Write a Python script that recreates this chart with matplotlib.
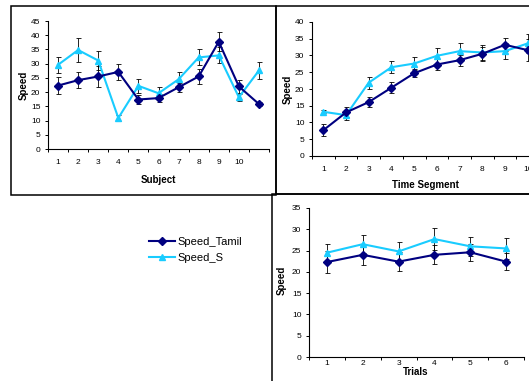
import matplotlib
matplotlib.use("Agg")
from matplotlib import pyplot as plt
from matplotlib.patches import Rectangle
from matplotlib.lines import Line2D

W, H = 529, 381
TAMIL_COLOR = "#000080"
S_COLOR = "#19CCFF"

# panel 1: per subject
subjects = ["1", "2", "3", "4", "5", "6", "7", "8", "9", "10", ""]
subj_tamil = [22.3, 24.2, 25.5, 27.1, 17.4, 17.9, 21.7, 25.5, 37.7, 22.0, 15.8]
subj_tamil_err = [3.0, 2.8, 3.6, 2.8, 1.5, 1.3, 1.6, 2.8, 3.3, 2.3, 0.8]
subj_s = [29.6, 34.8, 31.1, 10.9, 22.2, 19.6, 24.5, 32.2, 32.9, 18.2, 27.6]
subj_s_err = [2.9, 4.1, 3.5, 1.1, 2.4, 2.1, 2.5, 2.8, 2.8, 1.2, 3.1]

# panel 2: per time segment
segments = ["1", "2", "3", "4", "5", "6", "7", "8", "9", "10"]
seg_tamil = [7.7, 13.0, 16.1, 20.4, 24.7, 27.3, 28.6, 30.5, 33.2, 31.6]
seg_tamil_err = [1.8, 1.5, 1.5, 1.7, 1.2, 1.6, 1.6, 2.0, 2.0, 3.3]
seg_s = [13.2, 12.2, 21.9, 26.5, 27.6, 29.9, 31.3, 30.9, 31.3, 33.6]
seg_s_err = [0.4, 1.5, 1.8, 1.8, 2.0, 2.2, 2.3, 2.3, 2.3, 2.8]

# panel 3: per trial
trials = ["1", "2", "3", "4", "5", "6"]
trial_tamil = [22.3, 24.0, 22.4, 24.0, 24.6, 22.4]
trial_tamil_err = [2.6, 2.4, 2.2, 2.2, 2.0, 2.0]
trial_s = [24.5, 26.5, 24.8, 27.7, 26.0, 25.5]
trial_s_err = [2.0, 2.1, 2.1, 2.5, 2.3, 2.5]


def px_axes(fig, left, top, right, bottom):
    return fig.add_axes([left / W, 1 - bottom / H, (right - left) / W, (bottom - top) / H])


def frame(fig, left, top, right, bottom):
    fig.patches.append(Rectangle((left / W, 1 - bottom / H), (right - left) / W, (bottom - top) / H,
                                 transform=fig.transFigure, fill=False, edgecolor="black",
                                 linewidth=1.1, zorder=0))


def excel_chart(ax, labels, tamil, tamil_err, s, s_err, ymax, label_pad):
    n = len(labels)
    x = list(range(1, n + 1))
    ax.errorbar(x, s, yerr=s_err, color=S_COLOR, marker="^", markersize=5,
                linewidth=1.5, ecolor="black", elinewidth=0.6, capsize=1.8, capthick=0.6)
    ax.errorbar(x, tamil, yerr=tamil_err, color=TAMIL_COLOR, marker="D", markersize=4.5,
                linewidth=1.5, ecolor="black", elinewidth=0.6, capsize=1.8, capthick=0.6)
    ax.set_xlim(0.5, n + 0.5)
    ax.set_ylim(0, ymax)
    ax.set_yticks(range(0, ymax + 1, 5))
    ax.set_xticks([i + 0.5 for i in range(n + 1)])
    ax.set_xticklabels([])
    ax.set_xticks(x, minor=True)
    ax.set_xticklabels(labels, minor=True)
    ax.tick_params(axis="x", which="minor", length=0, pad=label_pad, labelsize=6)
    ax.tick_params(axis="x", which="major", direction="out", length=2.5, width=0.7)
    ax.tick_params(axis="y", direction="out", length=2.5, width=0.7, labelsize=6, pad=3)
    for side in ("top", "right"):
        ax.spines[side].set_visible(False)
    for side in ("left", "bottom"):
        ax.spines[side].set_linewidth(0.8)
    ax.patch.set_alpha(0)


def main():
    plt.rcParams["font.family"] = ["Liberation Sans", "DejaVu Sans"]
    fig = plt.figure(figsize=(W / 100, H / 100), dpi=100)

    frame(fig, 11, 6, 276, 195)
    frame(fig, 276, 6, 600, 194)
    frame(fig, 272, 194, 600, 450)

    ax1 = px_axes(fig, 48, 21, 269, 149)
    excel_chart(ax1, subjects, subj_tamil, subj_tamil_err, subj_s, subj_s_err, 45, 7)
    fig.text(158 / W, 1 - 180 / H, "Subject", ha="center", va="center", fontsize=7, fontweight="bold")
    fig.text(24 / W, 1 - 85 / H, "Speed", ha="center", va="center", fontsize=7,
             fontweight="bold", rotation=90)

    ax2 = px_axes(fig, 312, 22, 539, 156)
    excel_chart(ax2, segments, seg_tamil, seg_tamil_err, seg_s, seg_s_err, 40, 7)
    fig.text(425 / W, 1 - 185 / H, "Time Segment", ha="center", va="center", fontsize=7, fontweight="bold")
    fig.text(288 / W, 1 - 89 / H, "Speed", ha="center", va="center", fontsize=7,
             fontweight="bold", rotation=90)

    ax3 = px_axes(fig, 309, 208, 524, 357)
    excel_chart(ax3, trials, trial_tamil, trial_tamil_err, trial_s, trial_s_err, 35, 2)
    fig.text(416 / W, 1 - 372 / H, "Trials", ha="center", va="center", fontsize=7, fontweight="bold")
    fig.text(282 / W, 1 - 280 / H, "Speed", ha="center", va="center", fontsize=7,
             fontweight="bold", rotation=90)

    handles = [
        Line2D([], [], color=TAMIL_COLOR, marker="D", markersize=4.5, linewidth=1.5),
        Line2D([], [], color=S_COLOR, marker="^", markersize=5, linewidth=1.5),
    ]
    fig.legend(handles, ["Speed_Tamil", "Speed_S"], loc="upper left",
               bbox_to_anchor=(143 / W, 1 - 231 / H), frameon=False, fontsize=8,
               handlelength=2.4, handletextpad=0.2, labelspacing=0.6, borderpad=0)

    fig.savefig("out.png", dpi=100)


if __name__ == '__main__':
    main()
